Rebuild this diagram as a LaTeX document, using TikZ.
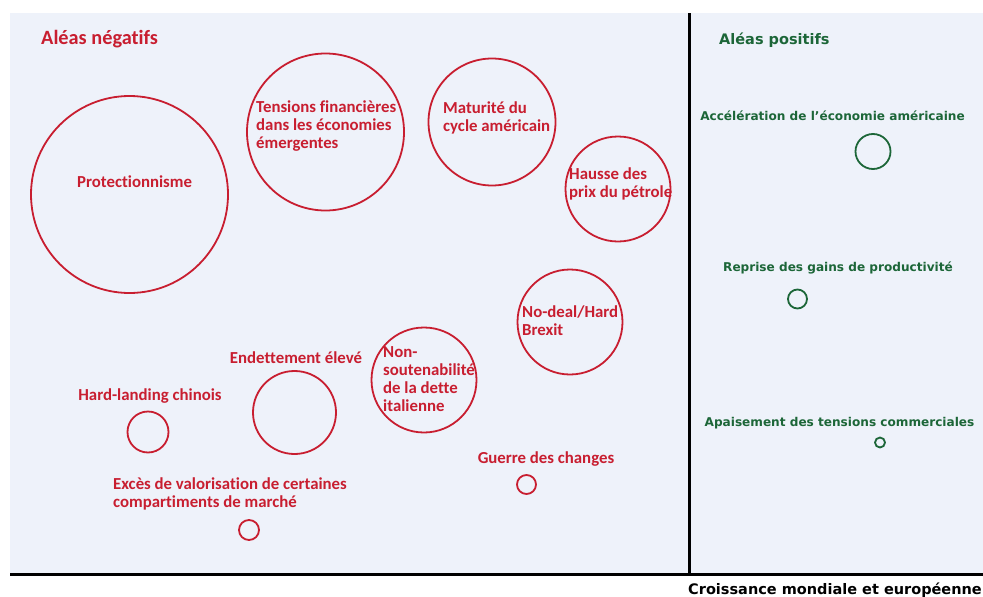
\documentclass[tikz,border=0pt]{standalone}
\usepackage{fontspec}
\setmainfont[Ligatures=NoCommon]{Carlito}
\newfontfamily\gfont{DejaVu Sans}
\definecolor{negred}{RGB}{200,30,48}
\definecolor{posgreen}{RGB}{28,102,56}
\definecolor{panelbg}{RGB}{238,242,250}
\tikzset{
  negrisk/.style={circle, draw=negred, line width=1.8pt, inner sep=0pt},
  posrisk/.style={circle, draw=posgreen, line width=1.8pt, inner sep=0pt},
  neglab/.style={text=negred, inner sep=0pt, font=\bfseries\fontsize{16.8}{18}\selectfont},
  negtitle/.style={text=negred, inner sep=0pt, font=\bfseries\fontsize{20.3}{22}\selectfont},
  poslab/.style={text=posgreen, inner sep=0pt, font=\gfont\bfseries\fontsize{12.1}{14}\selectfont},
  postitle/.style={text=posgreen, inner sep=0pt, font=\gfont\bfseries\fontsize{14.5}{17}\selectfont},
  axislab/.style={text=black, inner sep=0pt, font=\gfont\bfseries\fontsize{14.5}{17}\selectfont},
  axisline/.style={line width=3pt, draw=black}
}
\newcommand{\mlines}[1]{\begin{tabular}[t]{@{}l@{}}#1\end{tabular}}
\begin{document}
\begin{tikzpicture}[x=1pt,y=-1pt]
\useasboundingbox (0,0) rectangle (983,597);
\fill[panelbg] (10,13) rectangle (983,575);
% axes
\coordinate (vtop) at (689,13);
\coordinate (vbot) at (689,574.5);
\coordinate (hleft) at (10,574.5);
\coordinate (hright) at (983,574.5);
\draw[axisline] (vtop) -- (vbot);
\draw[axisline] (hleft) -- (hright);
\node[axislab, anchor=base east] (xlab) at (982,594.5) {Croissance mondiale et européenne};

% titles
\node[negtitle, anchor=base west] (tneg) at (41,44) {Aléas négatifs};
\node[postitle, anchor=base west] (tpos) at (719,44) {Aléas positifs};

% negative risks: circles
\node[negrisk, minimum size=197pt] (cprot) at (129.5,194.5) {};
\node[negrisk, minimum size=157pt] (ctens) at (325.5,132) {};
\node[negrisk, minimum size=127pt] (cmat) at (492,122) {};
\node[negrisk, minimum size=105pt] (chaus) at (618,189) {};
\node[negrisk, minimum size=105pt] (cbrex) at (570,322) {};
\node[negrisk, minimum size=105pt] (cital) at (424,380) {};
\node[negrisk, minimum size=83pt] (cendet) at (294.5,412.5) {};
\node[negrisk, minimum size=41pt] (chard) at (148,432) {};
\node[negrisk, minimum size=20pt] (cexces) at (249,530) {};
\node[negrisk, minimum size=19pt] (cguerre) at (526.5,484.5) {};

% negative risks: labels
\node[neglab, anchor=base west] (lprot) at (77,187) {Protectionnisme};
\node[neglab, anchor=base west] (ltens) at (256,112.7) {\mlines{Tensions financières\\dans les économies\\émergentes}};
\node[neglab, anchor=base west] (lmat) at (443,113.3) {\mlines{Maturité du\\cycle américain}};
\node[neglab, anchor=base west] (lhaus) at (569,179.3) {\mlines{Hausse des\\prix du pétrole}};
\node[neglab, anchor=base west] (lbrex) at (522,317.3) {\mlines{No-deal/Hard\\Brexit}};
\node[neglab, anchor=base west] (lital) at (383,357.3) {\mlines{Non-\\soutenabilité\\de la dette\\italienne}};
\node[neglab, anchor=base] (lendet) at (296,363.3) {Endettement élevé};
\node[neglab, anchor=base] (lhard) at (150,400) {Hard-landing chinois};
\node[neglab, anchor=base west] (lexces) at (113,489) {\mlines{Excès de valorisation de certaines\\compartiments de marché}};
\node[neglab, anchor=base] (lguerre) at (546,463.3) {Guerre des changes};

% positive risks
\node[posrisk, minimum size=35pt] (cacc) at (873,151.5) {};
\node[posrisk, minimum size=19pt] (crep) at (797.5,299) {};
\node[posrisk, minimum size=10pt] (capai) at (880,442.5) {};
\node[poslab, anchor=base] (lacc) at (832.5,120) {Accélération de l’économie américaine};
\node[poslab, anchor=base] (lrep) at (838,271.5) {Reprise des gains de productivité};
\node[poslab, anchor=base] (lapai) at (839.5,426) {Apaisement des tensions commerciales};
\end{tikzpicture}
\end{document}
